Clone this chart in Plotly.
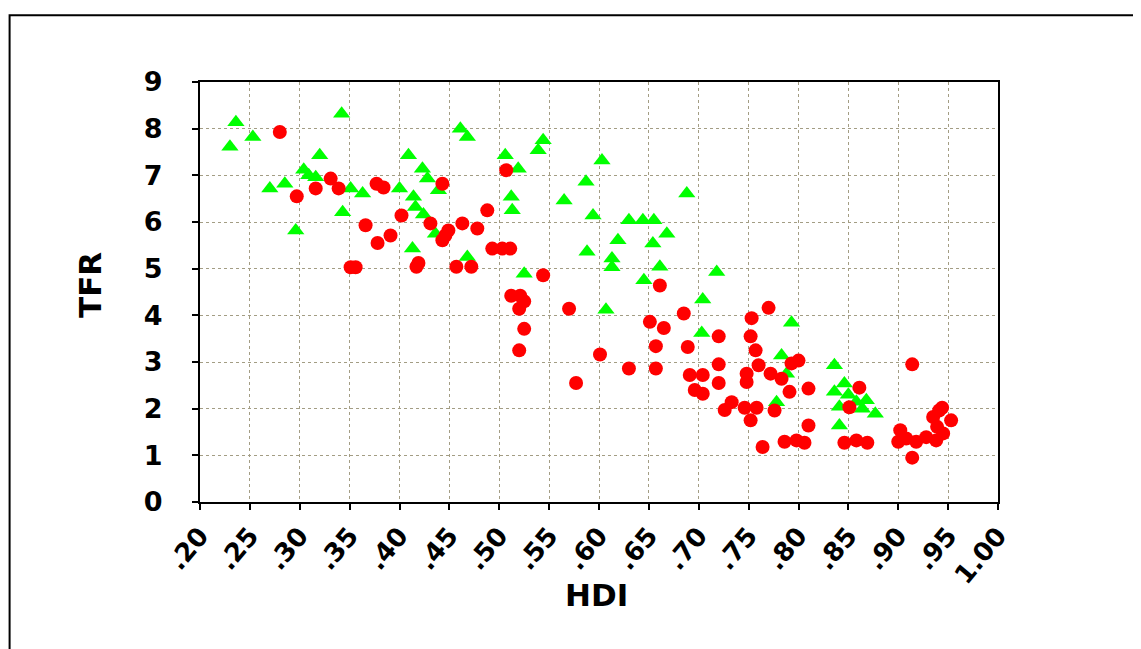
import plotly.graph_objects as go

# Green triangles series
green_hdi = [0.236, 0.230, 0.253, 0.342, 0.320, 0.304, 0.309, 0.316, 0.285, 0.270,
             0.351, 0.363, 0.343, 0.296, 0.400, 0.461, 0.468, 0.409, 0.423, 0.428,
             0.439, 0.414, 0.416, 0.424, 0.436, 0.413, 0.468, 0.506, 0.519, 0.544,
             0.539, 0.512, 0.513, 0.565, 0.587, 0.594, 0.603, 0.588, 0.525, 0.607,
             0.688, 0.630, 0.644, 0.655, 0.668, 0.619, 0.654, 0.613, 0.613, 0.661,
             0.718, 0.645, 0.704, 0.703, 0.793, 0.783, 0.788, 0.778, 0.836, 0.846,
             0.836, 0.868, 0.877, 0.841, 0.864, 0.841, 0.850, 0.858]
green_tfr = [8.14, 7.61, 7.82, 8.32, 7.43, 7.12, 7.00, 6.96, 6.82, 6.72,
             6.72, 6.61, 6.21, 5.82, 6.72, 8.00, 7.82, 7.43, 7.14, 6.93,
             6.68, 6.54, 6.32, 6.16, 5.75, 5.43, 5.25, 7.43, 7.14, 7.75,
             7.54, 6.54, 6.25, 6.46, 6.86, 6.14, 7.32, 5.36, 4.89, 4.12,
             6.61, 6.04, 6.04, 6.04, 5.75, 5.61, 5.54, 5.22, 5.03, 5.04,
             4.93, 4.75, 4.34, 3.62, 3.84, 3.14, 2.75, 2.14, 2.93, 2.54,
             2.36, 2.18, 1.89, 2.04, 2.00, 1.64, 2.30, 2.15]

# Red circles series
red_hdi = [0.280, 0.297, 0.316, 0.331, 0.339, 0.366, 0.378, 0.391, 0.377, 0.384,
           0.402, 0.351, 0.356, 0.443, 0.431, 0.443, 0.449, 0.463, 0.478, 0.446,
           0.417, 0.419, 0.457, 0.472, 0.507, 0.488, 0.493, 0.503, 0.511, 0.544,
           0.512, 0.521, 0.525, 0.520, 0.570, 0.525, 0.520, 0.577, 0.601, 0.661,
           0.685, 0.651, 0.665, 0.770, 0.753, 0.720, 0.657, 0.689, 0.752, 0.757,
           0.630, 0.657, 0.793, 0.800, 0.720, 0.691, 0.704, 0.696, 0.704, 0.720,
           0.748, 0.748, 0.760, 0.772, 0.783, 0.810, 0.791, 0.733, 0.726, 0.746,
           0.758, 0.776, 0.752, 0.764, 0.786, 0.798, 0.806, 0.810, 0.914, 0.861,
           0.851, 0.846, 0.858, 0.869, 0.902, 0.900, 0.914, 0.941, 0.935, 0.953,
           0.939, 0.945, 0.928, 0.918, 0.938, 0.908, 0.944]
red_tfr = [7.93, 6.55, 6.72, 6.93, 6.72, 5.93, 5.55, 5.71, 6.82, 6.74,
           6.14, 5.03, 5.03, 6.82, 5.97, 5.61, 5.82, 5.97, 5.86, 5.71,
           5.04, 5.12, 5.04, 5.04, 7.11, 6.25, 5.43, 5.43, 5.43, 4.86,
           4.42, 4.42, 4.30, 4.14, 4.14, 3.71, 3.25, 2.55, 3.16, 4.64,
           4.04, 3.86, 3.73, 4.16, 3.94, 3.55, 3.34, 3.32, 3.55, 3.25,
           2.86, 2.86, 2.97, 3.03, 2.95, 2.72, 2.72, 2.40, 2.32, 2.55,
           2.75, 2.57, 2.93, 2.75, 2.64, 2.43, 2.36, 2.14, 1.97, 2.02,
           2.02, 1.96, 1.75, 1.18, 1.29, 1.32, 1.27, 1.64, 2.95, 2.45,
           2.03, 1.27, 1.32, 1.27, 1.54, 1.29, 0.95, 1.96, 1.82, 1.75,
           1.61, 1.47, 1.39, 1.29, 1.32, 1.36, 2.02]

x_tickvals = [0.20, 0.25, 0.30, 0.35, 0.40, 0.45, 0.50, 0.55, 0.60, 0.65,
              0.70, 0.75, 0.80, 0.85, 0.90, 0.95, 1.00]
x_ticktext = [".20", ".25", ".30", ".35", ".40", ".45", ".50", ".55", ".60", ".65",
              ".70", ".75", ".80", ".85", ".90", ".95", "1.00"]
y_tickvals = [0, 1, 2, 3, 4, 5, 6, 7, 8, 9]
y_ticktext = ["0", "1", "2", "3", "4", "5", "6", "7", "8", "9"]

fig = go.Figure()
fig.add_trace(go.Scatter(
    x=green_hdi, y=green_tfr, mode="markers",
    marker=dict(symbol="triangle-up", size=15, color="#00ff00", line=dict(width=0)),
    showlegend=False, cliponaxis=False))
fig.add_trace(go.Scatter(
    x=red_hdi, y=red_tfr, mode="markers",
    marker=dict(symbol="circle", size=14, color="#ff0000", line=dict(width=0)),
    showlegend=False, cliponaxis=False))

grid_color = "#a39d84"

fig.update_xaxes(
    range=[0.2, 1.0], tickvals=x_tickvals, ticktext=x_ticktext, tickangle=-50,
    showgrid=True, gridcolor=grid_color, griddash="dot", gridwidth=1,
    showline=True, linecolor="black", linewidth=2, mirror=True,
    ticks="outside", ticklen=6, tickwidth=2, tickcolor="black",
    tickfont=dict(family="DejaVu Sans", size=26, color="black", weight="bold"),
    zeroline=False)
fig.update_yaxes(
    range=[0, 9], tickvals=y_tickvals, ticktext=y_ticktext,
    showgrid=True, gridcolor=grid_color, griddash="dot", gridwidth=1,
    showline=True, linecolor="black", linewidth=2, mirror=True,
    ticks="outside", ticklen=6, tickwidth=2, tickcolor="black",
    tickfont=dict(family="DejaVu Sans", size=27, color="black", weight="bold"),
    ticklabelstandoff=24, zeroline=False)

fig.update_layout(
    width=1133, height=641,
    margin=dict(l=191.5, r=143, t=74, b=147, autoexpand=False),
    paper_bgcolor="white", plot_bgcolor="white",
    shapes=[dict(type="rect", xref="paper", yref="paper",
                 x0=-0.2386, x1=1.35, y0=-0.5, y1=1.159,
                 line=dict(color="black", width=2), fillcolor="rgba(0,0,0,0)",
                 layer="below")],
    annotations=[
        dict(text="TFR", xref="paper", yref="paper", x=-0.137, y=0.516,
             xanchor="center", yanchor="middle",
             showarrow=False, textangle=-90,
             font=dict(family="DejaVu Sans", size=31, color="black", weight="bold")),
        dict(text="HDI", xref="paper", yref="paper", x=0.497, y=-0.222,
             xanchor="center", yanchor="middle",
             showarrow=False,
             font=dict(family="DejaVu Sans", size=31, color="black", weight="bold")),
    ])

fig.write_html("out.html")
